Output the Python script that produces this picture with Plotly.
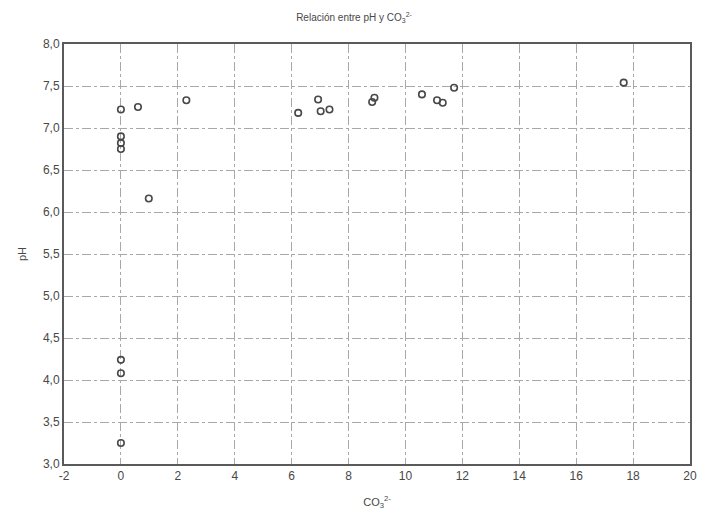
import plotly.graph_objects as go

co3 = [0, 0, 0, 0, 0, 0, 0, 0.6, 0.98, 2.3, 6.23, 6.93, 7.02, 7.33, 8.83, 8.91, 10.58, 11.11, 11.31, 11.71, 17.67]
ph = [7.22, 6.90, 6.82, 6.75, 4.24, 4.08, 3.25, 7.25, 6.16, 7.33, 7.18, 7.34, 7.20, 7.22, 7.31, 7.36, 7.40, 7.33, 7.30, 7.48, 7.54]

x_ticks = [-2, 0, 2, 4, 6, 8, 10, 12, 14, 16, 18, 20]
y_ticks = [3.0, 3.5, 4.0, 4.5, 5.0, 5.5, 6.0, 6.5, 7.0, 7.5, 8.0]
y_labels = ["3,0", "3,5", "4,0", "4,5", "5,0", "5,5", "6,0", "6,5", "7,0", "7,5", "8,0"]

ink = "#484848"
font = dict(family="Liberation Sans, Arial, sans-serif", color=ink, size=12)

fig = go.Figure()
fig.add_trace(go.Scatter(
    x=co3, y=ph, mode="markers",
    marker=dict(symbol="circle-open", size=6.5, color=ink, line=dict(width=1.6, color=ink)),
    showlegend=False,
))

fig.update_layout(
    width=708, height=520,
    margin=dict(l=64, r=11, t=44, b=56),
    paper_bgcolor="white", plot_bgcolor="white",
    font=font,
    title=dict(text="Relación entre pH y CO<sub>3</sub><sup>2-</sup>", x=0.5, xanchor="center",
               y=0.966, yanchor="middle", font=dict(size=10, color=ink, family=font["family"])),
    xaxis=dict(
        range=[-2, 20], tickvals=x_ticks, ticktext=[str(v) for v in x_ticks],
        showgrid=True, gridcolor="#a8a8a8", gridwidth=1, griddash="dashdot",
        showline=True, linecolor="#5a5a5a", linewidth=2, mirror=True,
        zeroline=False, ticks="", tickfont=dict(size=12, color=ink),
        title=dict(text="CO<sub>3</sub><sup>2-</sup>", font=dict(size=11, color=ink), standoff=16),
    ),
    yaxis=dict(
        range=[3.0, 8.0], tickvals=y_ticks, ticktext=y_labels,
        showgrid=True, gridcolor="#a8a8a8", gridwidth=1, griddash="dashdot",
        showline=True, linecolor="#5a5a5a", linewidth=2, mirror=True,
        zeroline=False, ticks="", tickfont=dict(size=12, color=ink),
        title=dict(text="pH", font=dict(size=11, color=ink), standoff=14),
    ),
)

fig.write_html("out.html")
